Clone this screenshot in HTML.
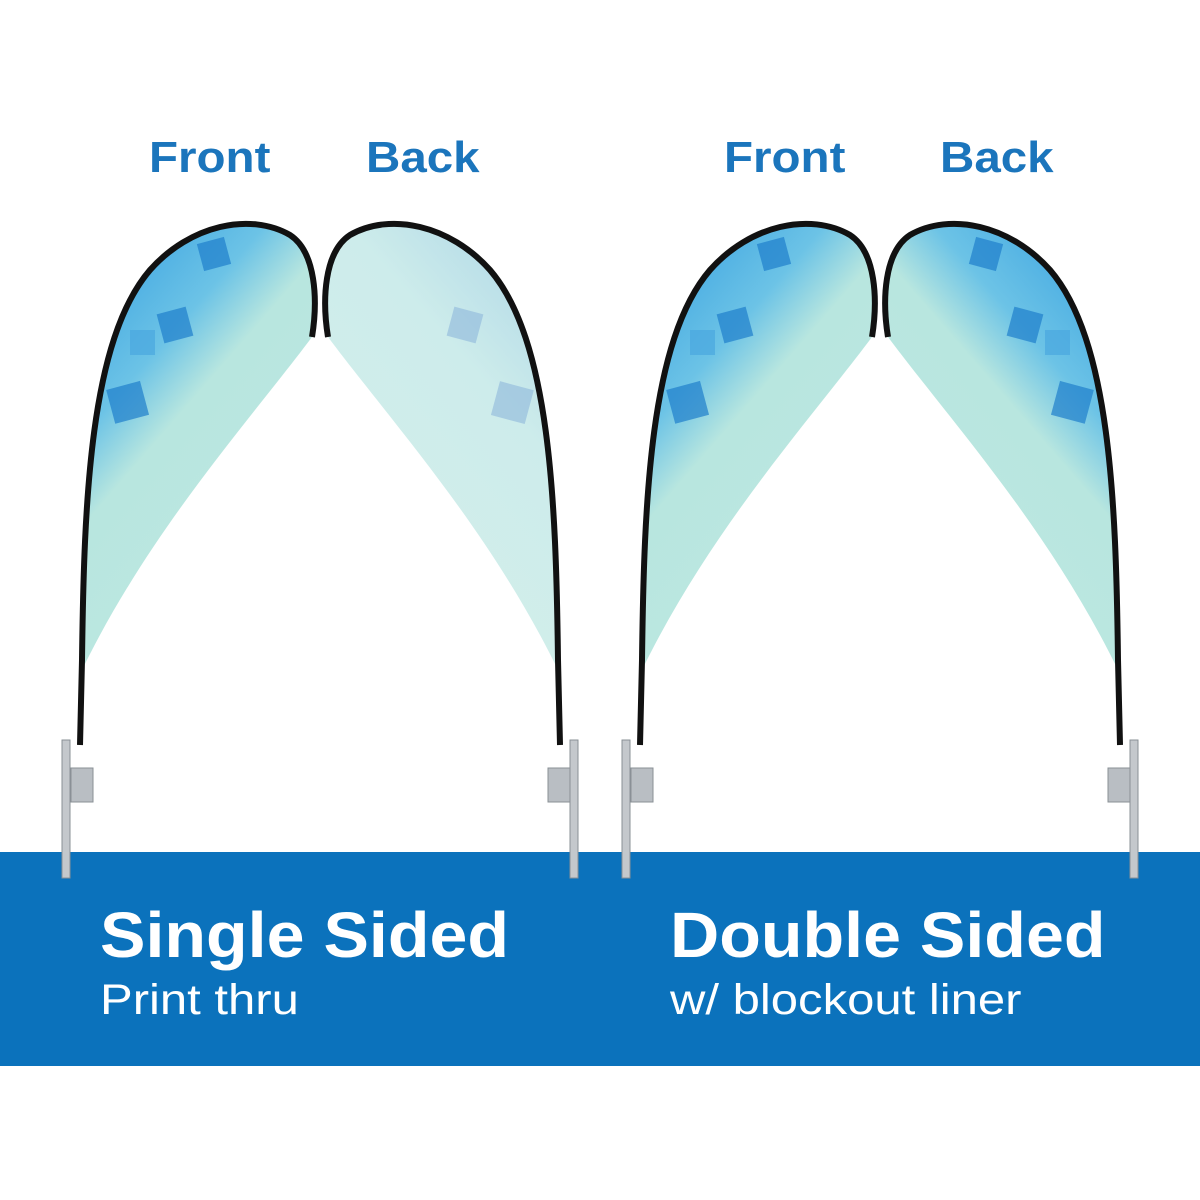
<!DOCTYPE html>
<html><head><style>
html,body{margin:0;padding:0;background:#fff;}
body{width:1200px;height:1200px;position:relative;overflow:hidden;font-family:"Liberation Sans",sans-serif;}
.band{position:absolute;left:0;top:852px;width:1200px;height:214px;background:#0b72bc;}
.lbl{position:absolute;top:132px;color:#1b75bc;font-weight:bold;font-size:44px;line-height:52px;transform:scaleX(1.08);transform-origin:left;}
.t1{position:absolute;color:#fff;font-weight:bold;font-size:64px;line-height:70px;top:900px;transform:scaleX(1.065);transform-origin:left;}
.t2{position:absolute;color:#fff;font-size:43px;line-height:50px;top:975px;transform:scaleX(1.14);transform-origin:left;}
svg{position:absolute;left:0;top:0;}
</style></head><body>
<div class="band"></div>
<div class="lbl" style="left:149px">Front</div>
<div class="lbl" style="left:366px">Back</div>
<div class="lbl" style="left:724px">Front</div>
<div class="lbl" style="left:940px">Back</div>
<div class="t1" style="left:100px">Single Sided</div>
<div class="t2" style="left:100px">Print thru</div>
<div class="t1" style="left:670px">Double Sided</div>
<div class="t2" style="left:670px">w/ blockout liner</div>
<svg width="1200" height="1200" viewBox="0 0 1200 1200">
<defs>
<linearGradient id="gf" x1="0" y1="0" x2="0.6" y2="1">
<stop offset="0" stop-color="#2f9be0"/><stop offset="0.35" stop-color="#6cc3e6"/><stop offset="0.5" stop-color="#b8e6df"/><stop offset="1" stop-color="#bde8e1"/></linearGradient>
<linearGradient id="gb" x1="1" y1="0" x2="0.4" y2="1">
<stop offset="0" stop-color="#a9d3e6"/><stop offset="0.4" stop-color="#cdeceb"/><stop offset="1" stop-color="#d3efea"/></linearGradient>
<g id="front">
<path d="M82,670 C84,500 90,340 150,270 C190,225 250,212 290,235 C316,252 318,300 312,337 C250,420 150,530 82,670 Z" fill="url(#gf)"/>
<g fill="#1f7fcc" opacity="0.7">
<rect x="110" y="385" width="35" height="35" transform="rotate(-15 127 402)"/>
<rect x="160" y="310" width="30" height="30" transform="rotate(-15 175 325)"/>
<rect x="200" y="240" width="28" height="28" transform="rotate(-15 214 254)"/>
<rect x="130" y="330" width="25" height="25" fill="#4aa8e0"/>
</g>
<path d="M80,745 L82,660 C84,500 90,340 150,270 C190,225 250,212 290,235 C316,252 318,300 312,337" fill="none" stroke="#111" stroke-width="6"/>
</g>
<g id="back">
<path d="M558,670 C556,500 550,340 490,270 C450,225 390,212 350,235 C324,252 322,300 328,337 C390,420 490,530 558,670 Z" fill="url(#gb)"/>
<g fill="#8fb8dc" opacity="0.6">
<rect x="495" y="385" width="35" height="35" transform="rotate(15 512 402)"/>
<rect x="450" y="310" width="30" height="30" transform="rotate(15 465 325)"/>
</g>
<path d="M560,745 L558,660 C556,500 550,340 490,270 C450,225 390,212 350,235 C324,252 322,300 328,337" fill="none" stroke="#111" stroke-width="6"/>
</g>
<g id="baseL">
<rect x="62" y="740" width="8" height="138" fill="#c4c8cc" stroke="#8a9096" stroke-width="1"/>
<rect x="71" y="768" width="22" height="34" fill="#b9bec3" stroke="#8a9096" stroke-width="1"/>
</g>
<g id="baseR">
<rect x="570" y="740" width="8" height="138" fill="#c4c8cc" stroke="#8a9096" stroke-width="1"/>
<rect x="548" y="768" width="22" height="34" fill="#b9bec3" stroke="#8a9096" stroke-width="1"/>
</g>
</defs>
<use href="#front"/><use href="#back"/><use href="#baseL"/><use href="#baseR"/>
<g transform="translate(560,0)">
<use href="#front"/>
<g transform="translate(640,0) scale(-1,1)"><use href="#front"/></g>
<use href="#baseL"/><use href="#baseR"/>
</g>
</svg>
</body></html>
